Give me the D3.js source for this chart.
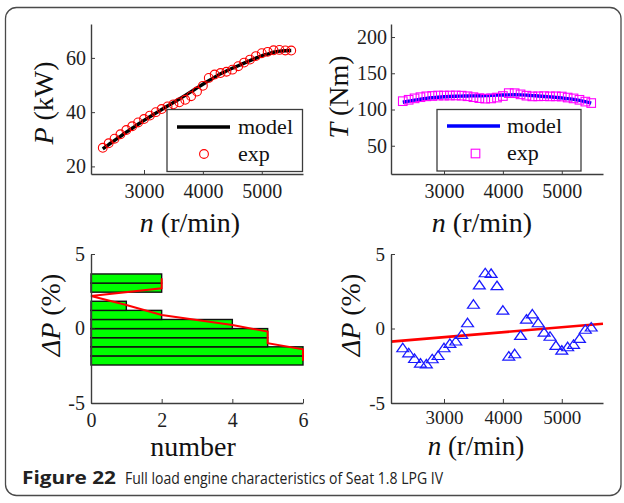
<!DOCTYPE html>
<html>
<head>
<meta charset="utf-8">
<script src="https://cdn.jsdelivr.net/npm/d3@7"></script>
<style>
  body { margin: 0; background: #fff; }
  svg { display: block; }
</style>
</head>
<body>
<svg id="fig" width="624" height="503"></svg>
<script>
// Engine speed of each full-load measurement point (r/min)
const speed = [2300, 2400, 2500, 2600, 2700, 2800, 2900, 3000, 3100, 3200, 3300,
               3400, 3500, 3600, 3700, 3800, 3900, 4000, 4100, 4200, 4300, 4400,
               4500, 4600, 4700, 4800, 4900, 5000, 5100, 5200, 5300, 5400, 5500];

// Effective power, model and measurement (kW)
const powerModel = [26.49, 28.02, 29.58, 31.09, 32.60, 34.07, 35.53, 36.95, 38.31, 39.64, 40.95,
                    42.26, 43.54, 44.86, 46.19, 47.55, 48.93, 50.27, 51.61, 52.91, 54.13, 55.20,
                    56.17, 57.13, 58.08, 59.01, 59.93, 60.79, 61.42, 62.08, 62.49, 62.66, 62.72];
const powerExp = [26.86, 28.51, 30.21, 31.85, 33.42, 34.80, 36.21, 37.46, 38.73, 40.01, 41.14,
                  42.13, 42.88, 43.62, 44.56, 45.89, 47.60, 49.70, 52.63, 53.86, 54.42, 54.90,
                  55.67, 56.95, 58.27, 59.37, 60.66, 61.73, 62.23, 62.80, 62.96, 62.74, 62.71];

// Effective torque, model and measurement (Nm)
const torqueModel = [110.0, 111.5, 113.0, 114.2, 115.3, 116.2, 117.0, 117.6, 118.0, 118.3, 118.5,
                     118.7, 118.8, 119.0, 119.2, 119.5, 119.8, 120.0, 120.2, 120.3, 120.2, 119.8,
                     119.2, 118.6, 118.0, 117.4, 116.8, 116.1, 115.0, 114.0, 112.6, 110.8, 108.9];
const torqueExp = [111.5, 113.4, 115.4, 117.0, 118.2, 118.7, 119.3, 119.2, 119.3, 119.4, 119.1,
                   118.3, 117.0, 115.7, 115.0, 115.3, 116.5, 118.6, 122.6, 122.5, 120.9, 119.1,
                   118.1, 118.2, 118.4, 118.1, 118.2, 117.9, 116.5, 115.3, 113.4, 110.9, 108.9];

// Relative power deviation of the model (%)
const deltaP = [-1.37, -1.71, -2.09, -2.40, -2.45, -2.11, -1.89, -1.37, -1.08, -0.92, -0.47,
                0.31, 1.55, 2.85, 3.66, 3.62, 2.80, 1.15, -1.93, -1.77, -0.54, 0.55,
                0.90, 0.31, -0.32, -0.60, -1.21, -1.53, -1.30, -1.14, -0.74, -0.13, 0.02];

// Outline drawn over the deviation histogram (count, ΔP %)
const histCurveCount = [2, 2, 0, 1, 2, 4, 5, 5, 6, 6];
const histCurveDP = [3.37, 2.70, 2.18, 1.58, 0.91, 0.23, -0.21, -0.99, -1.40, -2.16];

// Linear trend of the deviation against speed
const trendSpeed = [2100, 5700];
const trendDP = [-0.88, 0.32];

// Tick values
const speedTicks = [3000, 4000, 5000];
const powerTicks = [20, 40, 60];
const torqueTicks = [50, 100, 150, 200];
const deltaTicks = [-5, 0, 5];
const countTicks = [0, 2, 4, 6];
const histBins = 10;

const svg = d3.select("#fig");
const SERIF = "'Liberation Serif', 'Times New Roman', serif";
const AXIS_COLOR = "#3c3c3c";

// outer frame
svg.append("rect")
  .attr("x", 5.5).attr("y", 7.5).attr("width", 615.5).attr("height", 488)
  .attr("rx", 11).attr("ry", 11)
  .attr("fill", "none").attr("stroke", "#4a4a4a").attr("stroke-width", 1.3);

function styleAxis(g, size) {
  g.selectAll(".domain").attr("stroke", AXIS_COLOR).attr("stroke-width", 1.4);
  g.selectAll(".tick line").attr("stroke", AXIS_COLOR).attr("stroke-width", 1);
  g.selectAll(".tick text")
    .attr("font-family", SERIF).attr("font-size", size).attr("fill", "#1e1e1e");
}

function drawAxes(x, y, xTicks, yTicks, xPad, yPad, size) {
  const fmt = d => String(d);
  const gx = svg.append("g")
    .attr("transform", `translate(0,${y.range()[0]})`)
    .call(d3.axisBottom(x).tickValues(xTicks).tickSizeInner(-4).tickSizeOuter(0)
      .tickPadding(xPad).tickFormat(fmt));
  const gy = svg.append("g")
    .attr("transform", `translate(${x.range()[0]},0)`)
    .call(d3.axisLeft(y).tickValues(yTicks).tickSizeInner(-4).tickSizeOuter(0)
      .tickPadding(yPad).tickFormat(fmt));
  styleAxis(gx, size); styleAxis(gy, size);
}

function yTitle(cx, cy, italicPart, rest) {
  const t = svg.append("text")
    .attr("transform", `translate(${cx},${cy}) rotate(-90)`)
    .attr("text-anchor", "middle").attr("dy", "0.35em")
    .attr("font-family", SERIF).attr("font-size", 28).attr("fill", "#111");
  t.append("tspan").attr("font-style", "italic").text(italicPart);
  t.append("tspan").text(rest);
}

function xTitle(cx, baseY, italicPart, rest, size) {
  const t = svg.append("text")
    .attr("x", cx).attr("y", baseY).attr("text-anchor", "middle")
    .attr("font-family", SERIF).attr("font-size", size || 28).attr("fill", "#111");
  if (italicPart) t.append("tspan").attr("font-style", "italic").text(italicPart);
  t.append("tspan").text(rest);
}

function legendBox(x0, y0, x1, y1) {
  svg.append("rect")
    .attr("x", x0).attr("y", y0).attr("width", x1 - x0).attr("height", y1 - y0)
    .attr("fill", "#fff").attr("stroke", AXIS_COLOR).attr("stroke-width", 1.3);
}

function legendText(x, y, s) {
  svg.append("text").attr("x", x).attr("y", y)
    .attr("font-family", SERIF).attr("font-size", 22).attr("fill", "#111").text(s);
}

const pts = speed.map((n, i) => i);

// ---------- Power vs speed ----------
{
  const x = d3.scaleLinear().domain([2100, 5700]).range([91, 303]);
  const y = d3.scaleLinear().domain([17.2, 72.5]).range([174, 24]);

  svg.append("path")
    .attr("d", d3.line().x(i => x(speed[i])).y(i => y(powerModel[i])).curve(d3.curveMonotoneX)(pts))
    .attr("fill", "none").attr("stroke", "#000").attr("stroke-width", 3.4);

  svg.append("g").selectAll("circle").data(pts).join("circle")
    .attr("cx", i => x(speed[i])).attr("cy", i => y(powerExp[i])).attr("r", 4.4)
    .attr("fill", "none").attr("stroke", "#ff0000").attr("stroke-width", 1.1);

  drawAxes(x, y, speedTicks, powerTicks, 10, 5, 20);
  yTitle(43, 103, "P", " (kW)");
  xTitle(190, 232, "n", " (r/min)");

  legendBox(167, 109.5, 302.5, 171.5);
  svg.append("line").attr("x1", 177).attr("x2", 230).attr("y1", 127).attr("y2", 127)
    .attr("stroke", "#000").attr("stroke-width", 3.4);
  svg.append("circle").attr("cx", 204).attr("cy", 154).attr("r", 4.4)
    .attr("fill", "none").attr("stroke", "#ff0000").attr("stroke-width", 1.1);
  legendText(238, 134, "model");
  legendText(238, 161, "exp");
}

// ---------- Torque vs speed ----------
{
  const x = d3.scaleLinear().domain([2100, 5700]).range([391, 603]);
  const y = d3.scaleLinear().domain([11, 218]).range([174, 24]);

  svg.append("path")
    .attr("d", d3.line().x(i => x(speed[i])).y(i => y(torqueModel[i])).curve(d3.curveMonotoneX)(pts))
    .attr("fill", "none").attr("stroke", "#0000ff").attr("stroke-width", 3.4);

  const s = 8.6;
  svg.append("g").selectAll("rect").data(pts).join("rect")
    .attr("x", i => x(speed[i]) - s / 2).attr("y", i => y(torqueExp[i]) - s / 2)
    .attr("width", s).attr("height", s)
    .attr("fill", "none").attr("stroke", "#ff00ff").attr("stroke-width", 1.1);

  drawAxes(x, y, speedTicks, torqueTicks, 10, 4, 20);
  yTitle(338, 97, "T", " (Nm)");
  xTitle(482, 232, "n", " (r/min)");

  legendBox(437, 109.5, 581, 171);
  svg.append("line").attr("x1", 447).attr("x2", 500).attr("y1", 126).attr("y2", 126)
    .attr("stroke", "#0000ff").attr("stroke-width", 3.4);
  svg.append("rect").attr("x", 475.5 - s / 2).attr("y", 153.5 - s / 2)
    .attr("width", s).attr("height", s)
    .attr("fill", "none").attr("stroke", "#ff00ff").attr("stroke-width", 1.1);
  legendText(507, 133, "model");
  legendText(507, 160, "exp");
}

// ---------- Histogram of the deviation ----------
{
  const x = d3.scaleLinear().domain([0, 6]).range([91, 303]);
  const y = d3.scaleLinear().domain([-5, 5]).range([403, 254]);

  const [lo, hi] = d3.extent(deltaP);
  const step = (hi - lo) / histBins;
  const bins = d3.bin()
    .domain([lo, hi])
    .thresholds(d3.range(1, histBins).map(k => lo + k * step))(deltaP);

  svg.append("g").selectAll("rect").data(bins.filter(b => b.length > 0)).join("rect")
    .attr("x", x(0))
    .attr("y", b => y(b.x1))
    .attr("width", b => x(b.length) - x(0))
    .attr("height", b => y(b.x0) - y(b.x1))
    .attr("fill", "#00ff00").attr("stroke", "#111").attr("stroke-width", 1.4);

  svg.append("path")
    .attr("d", d3.line().x(d => x(d[0])).y(d => y(d[1]))(histCurveCount.map((c, i) => [c, histCurveDP[i]])))
    .attr("fill", "none").attr("stroke", "#ff0000").attr("stroke-width", 2);

  drawAxes(x, y, countTicks, deltaTicks, 10, 6, 20);
  yTitle(50, 315, "ΔP", " (%)");
  xTitle(193, 456, null, "number");
}

// ---------- Deviation vs speed ----------
{
  const x = d3.scaleLinear().domain([2100, 5700]).range([391, 603]);
  const y = d3.scaleLinear().domain([-5, 5]).range([403, 254]);

  svg.append("path")
    .attr("d", d3.line().x((n, i) => x(n)).y((n, i) => y(trendDP[i]))(trendSpeed))
    .attr("fill", "none").attr("stroke", "#ff0000").attr("stroke-width", 2.6);

  const tri = d3.symbol().type(d3.symbolTriangle).size(46);
  svg.append("g").selectAll("path").data(pts).join("path")
    .attr("transform", i => `translate(${x(speed[i])},${y(deltaP[i])}) scale(1.15,0.95)`)
    .attr("d", tri)
    .attr("fill", "none").attr("stroke", "#1a1aff").attr("stroke-width", 1.2);

  drawAxes(x, y, speedTicks, deltaTicks, 8, 6, 19);
  yTitle(350, 315, "ΔP", " (%)");
  xTitle(476, 455, "n", " (r/min)", 27);
}

// ---------- Caption ----------
{
  const CAPTION_FONT = "'Open Sans', 'Noto Sans', sans-serif";
  svg.append("text").attr("x", 22).attr("y", 484)
    .attr("font-family", CAPTION_FONT).attr("font-size", 18).attr("font-weight", "bold")
    .attr("fill", "#222")
    .attr("textLength", 94).attr("lengthAdjust", "spacingAndGlyphs")
    .text("Figure 22");
  svg.append("text").attr("x", 125).attr("y", 484)
    .attr("font-family", CAPTION_FONT).attr("font-size", 17).attr("fill", "#222")
    .attr("textLength", 318).attr("lengthAdjust", "spacingAndGlyphs")
    .text("Full load engine characteristics of Seat 1.8 LPG IV");
}
</script>
</body>
</html>
